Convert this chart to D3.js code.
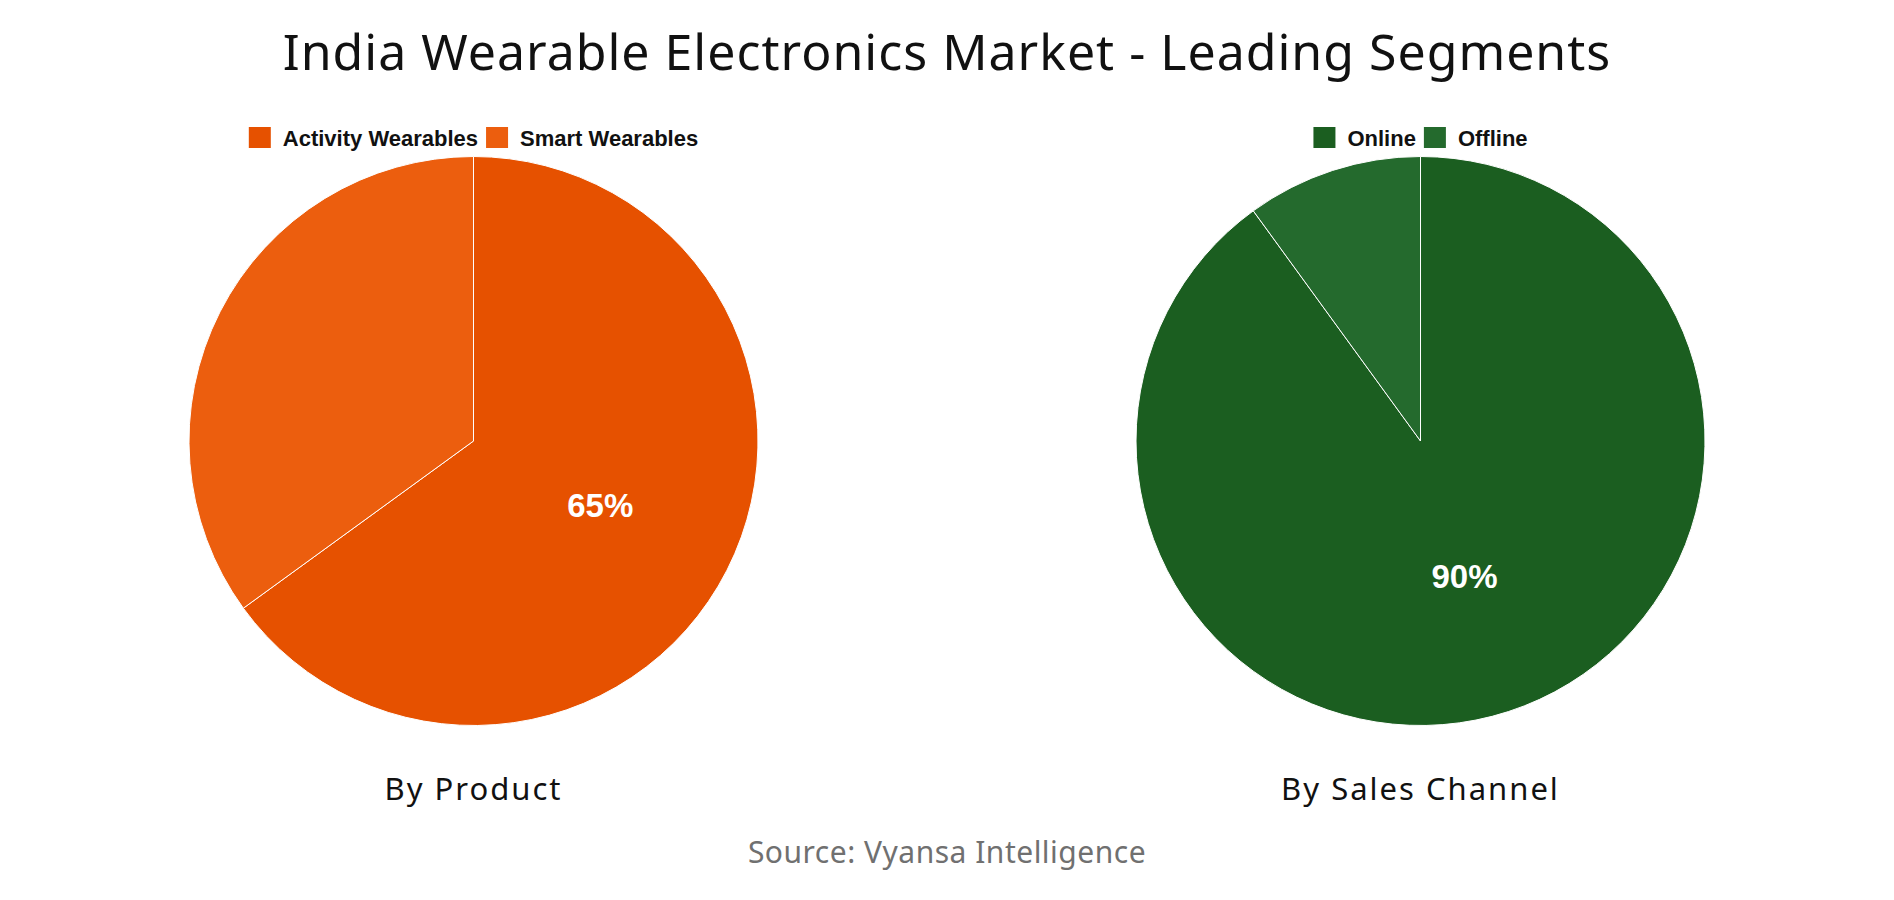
<!DOCTYPE html>
<html>
<head>
<meta charset="utf-8">
<script src="https://cdn.jsdelivr.net/npm/d3@7"></script>
<style>
  html, body { margin: 0; padding: 0; background: #fff; }
  svg { display: block; }
</style>
</head>
<body>
<svg id="chart" width="1894" height="900"></svg>
<script>
const title = "India Wearable Electronics Market - Leading Segments";
const source = "Source: Vyansa Intelligence";

const productLabels = ["Activity Wearables", "Smart Wearables"];
const productValues = [65, 35];
const productColors = ["#E65100", "#EC5E0E"];
const productTitle = "By Product";

const channelLabels = ["Online", "Offline"];
const channelValues = [90, 10];
const channelColors = ["#1B5E20", "#246A2D"];
const channelTitle = "By Sales Channel";

const svg = d3.select("#chart");
const W = 1894;

svg.append("text")
  .attr("x", W / 2).attr("y", 70)
  .attr("text-anchor", "middle")
  .style("font-family", "'Noto Sans', sans-serif")
  .style("font-size", "50px")
  .style("letter-spacing", "1px")
  .style("fill", "#111")
  .text(title);

svg.append("text")
  .attr("x", W / 2).attr("y", 863)
  .attr("text-anchor", "middle")
  .style("font-family", "'Noto Sans', sans-serif")
  .style("font-size", "30px")
  .style("letter-spacing", "0.5px")
  .style("fill", "#707070")
  .text(source);

function drawPie(cx, cy, r, labels, values, colors, subtitle) {
  const g = svg.append("g").attr("transform", `translate(${cx},${cy})`);
  const pie = d3.pie().sort(null).value(d => d.v);
  const data = labels.map((l, i) => ({ l, v: values[i], c: colors[i] }));
  const arcs = pie(data);
  const arc = d3.arc().innerRadius(0).outerRadius(r);
  g.selectAll("path").data(arcs).enter().append("path")
    .attr("d", arc)
    .attr("fill", d => d.data.c)
    .attr("stroke", "#fff")
    .attr("stroke-width", 1);
  const maxV = d3.max(values);
  g.selectAll("text.pct").data(arcs.filter(d => d.data.v === maxV)).enter().append("text")
    .attr("class", "pct")
    .attr("transform", d => `translate(${arc.centroid(d)})`)
    .attr("text-anchor", "middle")
    .attr("dy", "0.35em")
    .style("font-family", "'Liberation Sans', Arial, sans-serif")
    .style("font-weight", "bold")
    .style("font-size", "33px")
    .style("fill", "#fff")
    .text(d => d.data.v + "%");

  const lg = svg.append("g");
  const items = lg.selectAll("g").data(data).enter().append("g");
  items.append("rect").attr("width", 22).attr("height", 21).attr("y", -11)
    .attr("fill", d => d.c);
  items.append("text").attr("x", 34).attr("y", 0).attr("dy", "0.35em")
    .style("font-family", "'Liberation Sans', Arial, sans-serif")
    .style("font-weight", "bold")
    .style("font-size", "22px")
    .style("fill", "#111")
    .text(d => d.l);
  let x = 0;
  items.each(function () {
    d3.select(this).attr("transform", `translate(${x},0)`);
    x += this.getBBox().width + 8;
  });
  const total = x - 8;
  lg.attr("transform", `translate(${cx - total / 2},${138})`);

  svg.append("text")
    .attr("x", cx).attr("y", 800)
    .attr("text-anchor", "middle")
    .style("font-family", "'Noto Sans', sans-serif")
    .style("font-size", "31px")
    .style("letter-spacing", "2px")
    .style("fill", "#111")
    .text(subtitle);
}

drawPie(473.5, 441, 284.5, productLabels, productValues, productColors, productTitle);
drawPie(1420.5, 441, 284.5, channelLabels, channelValues, channelColors, channelTitle);
</script>
</body>
</html>
